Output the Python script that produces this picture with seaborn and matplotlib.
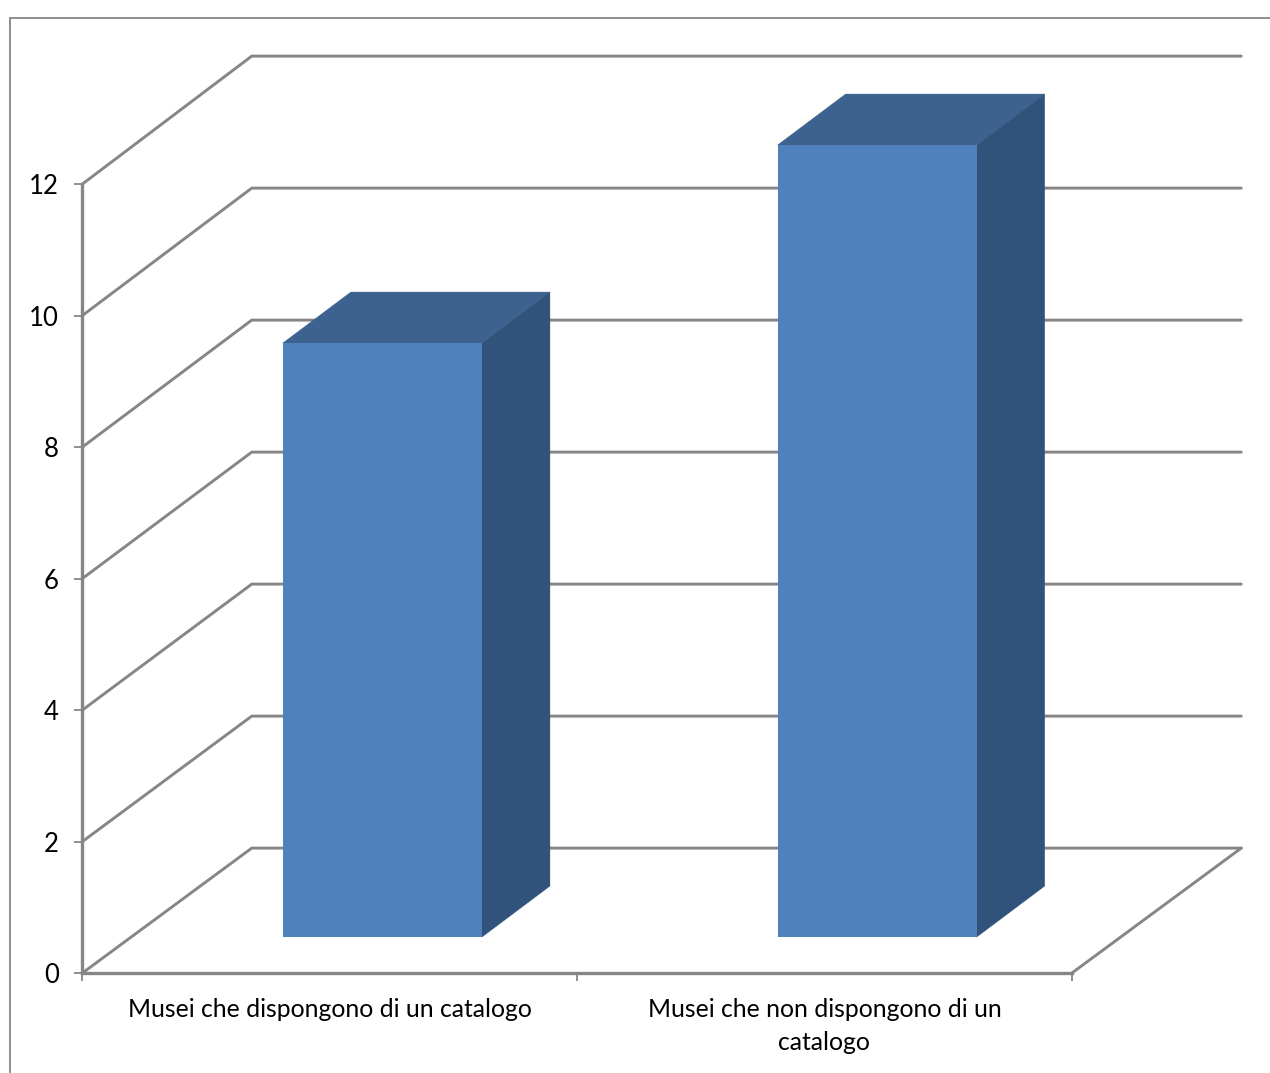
import matplotlib
matplotlib.use("Agg")
import matplotlib.pyplot as plt
import seaborn as sns
from matplotlib.lines import Line2D
from matplotlib.patches import Polygon

# Chart content
categories = ["Musei che dispongono di un catalogo",
              "Musei che non dispongono di un\ncatalogo"]
museum_counts = [9, 12]
y_ticks = [0, 2, 4, 6, 8, 10, 12]

# Colours
FRONT = "#4F81BD"
TOP = "#3D6290"
SIDE = "#31527A"
GREY = "#868686"
FRAME = "#8E8E8E"

# Pseudo-3D geometry, in data units
WALL_DX = 0.3425      # x shift of the back wall
WALL_DY = 1.901       # y shift of the back wall
DEPTH_SCALE = 1.0038  # values grow slightly towards the back
BAR_WIDTH = 0.4024
BAR_SHIFT_X = 0.1065  # bars stand mid-way across the floor
BAR_SHIFT_Y = 0.548
BAR_DX = 0.1375       # depth of each column
BAR_DY = 0.776

sns.set_theme(style="white")
plt.rcParams["font.family"] = ["Lato", "DejaVu Sans"]

W, H = 1270, 1073
fig = plt.figure(figsize=(W / 100, H / 100), dpi=100, facecolor="white")
ax = fig.add_axes([82.3 / W, 1 - 973.1 / H, 989.5 / W, 789 / H])

sns.barplot(x=categories, y=museum_counts, color=FRONT, saturation=1,
            width=BAR_WIDTH, ax=ax, zorder=5, linewidth=0)
ax.set_xlim(-0.5, 1.5)
ax.set_ylim(0, 12)

# Back wall and left wall gridlines, floor edge
left, right = -0.5, 1.5
for v in y_ticks:
    back_y = v * DEPTH_SCALE + WALL_DY
    ax.plot([left, left + WALL_DX, right + WALL_DX], [v, back_y, back_y],
            color=GREY, lw=2.1, clip_on=False, zorder=1,
            solid_joinstyle="miter")
ax.plot([right, right + WALL_DX], [0, WALL_DY], color=GREY, lw=2.1,
        clip_on=False, zorder=1)

# Extrude each column: move the front face, then add top and side faces
for patch, value in zip(ax.patches, museum_counts):
    x0 = patch.get_x() + BAR_SHIFT_X
    x1 = x0 + BAR_WIDTH
    y0 = BAR_SHIFT_Y
    y1 = y0 + value * DEPTH_SCALE
    patch.set_x(x0)
    patch.set_y(y0)
    patch.set_height(y1 - y0)
    patch.set_clip_on(False)
    ax.add_patch(Polygon([(x0, y1), (x1, y1), (x1 + BAR_DX, y1 + BAR_DY),
                          (x0 + BAR_DX, y1 + BAR_DY)],
                         closed=True, facecolor=TOP, edgecolor=TOP, lw=0.3,
                         clip_on=False, zorder=4))
    ax.add_patch(Polygon([(x1, y0), (x1 + BAR_DX, y0 + BAR_DY),
                          (x1 + BAR_DX, y1 + BAR_DY), (x1, y1)],
                         closed=True, facecolor=SIDE, edgecolor=SIDE, lw=0.3,
                         clip_on=False, zorder=4))

# Axes styling
for name, spine in ax.spines.items():
    spine.set_visible(name in ("left", "bottom"))
    spine.set_color(GREY)
    spine.set_linewidth(2.4)
    spine.set_zorder(2)

ax.set_yticks(y_ticks)
ax.set_xticks([0, 1])
ax.set_xticklabels(categories, linespacing=1.55)
ax.set_xticks([-0.5, 0.5, 1.5], minor=True)
ax.tick_params(axis="y", which="major", left=True, length=6, width=1.3,
               color=GREY, pad=11, labelsize=18.5, labelcolor="black")
ax.tick_params(axis="x", which="major", bottom=False, length=0, pad=17.6,
               labelsize=17.85, labelcolor="black")
ax.tick_params(axis="x", which="minor", bottom=True, length=6, width=1.3,
               color=GREY)
ax.set_xlabel("")
ax.set_ylabel("")
ax.grid(False)
ax.patch.set_alpha(0)

# Chart-area frame along the top and left
frame_x = 9.5 / W
frame_y = 1 - 17.5 / H
fig.add_artist(Line2D([frame_x, 1], [frame_y, frame_y], color=FRAME, lw=1.4))
fig.add_artist(Line2D([frame_x, frame_x], [0, frame_y], color=FRAME, lw=1.4))

fig.savefig("out.png", dpi=100, facecolor="white")
